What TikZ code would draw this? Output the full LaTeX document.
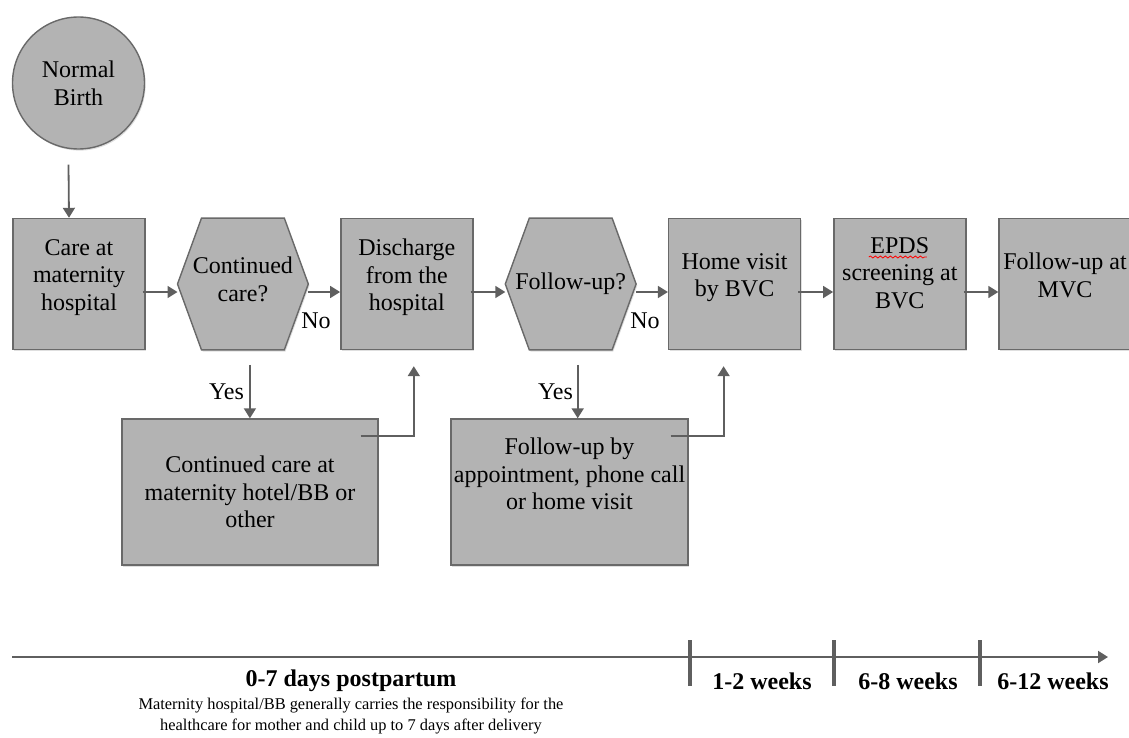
\documentclass[tikz,border=0pt]{standalone}
\usepackage{fontspec}
\setmainfont{Liberation Serif}
\usetikzlibrary{arrows.meta,positioning,shadows,decorations.pathmorphing}
\definecolor{boxgray}{RGB}{179,179,179}
\definecolor{edgegray}{RGB}{105,105,105}
\definecolor{arrgray}{RGB}{95,95,95}
\pgfdeclarelayer{background}
\pgfsetlayers{background,main}

\begin{document}
\begin{tikzpicture}[
  x=0.5pt,y=-0.5pt,
  node distance=15.9pt,
  every node/.style={font=\fontsize{12}{13.8}\selectfont},
  shade/.style={drop shadow={opacity=0.25,shadow xshift=0.6pt,shadow yshift=-0.8pt}},
  box/.style={draw=edgegray,fill=boxgray,line width=0.7pt,minimum width=66pt,minimum height=65.5pt,align=center,inner sep=1pt,shade},
  topbox/.style={box,text depth=9pt},
  hexbox/.style={minimum width=65pt,minimum height=65.5pt,align=center,inner sep=1pt},
  hexline/.style={draw=edgegray,fill=boxgray,line width=0.7pt,shade},
  lowbox/.style={box,minimum height=73pt},
  circ/.style={box,circle,minimum size=66pt},
  arr/.style={-{Triangle[length=5pt,width=6pt]},draw=arrgray,line width=0.9pt},
  tick/.style={draw=arrgray,line width=1.6pt},
  period/.style={font=\fontsize{12}{14}\selectfont\bfseries}
]
\useasboundingbox (0,0) rectangle (1129,738);

% top row
\node[circ] (birth) at (78.5,83) {Normal\\Birth};
\node[topbox] (care) at (79,284) {Care at\\maternity\\hospital};
\node[hexbox,right=of care,text depth=5pt] (cont) {Continued\\care?};
\node[topbox,right=of cont] (disch) {Discharge\\from the\\hospital};
\node[hexbox,right=of disch] (fup) {Follow-up?};
\node[topbox,right=of fup] (home) {Home visit\\by BVC};
\node[topbox,right=of home,text depth=11pt] (epds) {EPDS\\screening at\\BVC};
\node[topbox,right=of epds] (mvc) {Follow-up at\\MVC};

\begin{pgfonlayer}{background}
\foreach \h in {cont,fup}{
  \draw[hexline] (\h.west) -- ([xshift=12pt]\h.north west) -- ([xshift=-12pt]\h.north east)
    -- (\h.east) -- ([xshift=-12pt]\h.south east) -- ([xshift=12pt]\h.south west) -- cycle;
}
\end{pgfonlayer}

% lower boxes
\node[lowbox,minimum width=128pt] (hotel) at (250,492) {Continued care at\\maternity hotel/BB or\\other};
\node[lowbox,minimum width=118.5pt,text depth=18pt] (appt) at (569.5,492) {Follow-up by\\appointment, phone call\\or home visit};

\draw[red,line width=0.4pt,decorate,decoration={snake,amplitude=0.5pt,segment length=2.5pt}]
  ([xshift=-15.5pt,yshift=13.5pt]epds.center) -- ([xshift=13.5pt,yshift=13.5pt]epds.center);

% arrows
\draw[arr] ([xshift=-5pt,yshift=-7.5pt]birth.south) -- ([xshift=-5pt]care.north);
\draw[arr] ([xshift=-1.5pt,yshift=-4pt]care.east) -- ([yshift=-4pt]cont.west);
\draw[arr] ([yshift=-4pt]cont.east) -- ([yshift=-4pt]disch.west);
\draw[arr] ([xshift=-1.5pt,yshift=-4pt]disch.east) -- ([yshift=-4pt]fup.west);
\draw[arr] ([yshift=-4pt]fup.east) -- ([yshift=-4pt]home.west);
\draw[arr] ([xshift=-1.5pt,yshift=-4pt]home.east) -- ([yshift=-4pt]epds.west);
\draw[arr] ([xshift=-1.5pt,yshift=-4pt]epds.east) -- ([yshift=-4pt]mvc.west);

\node (no1) at (316,321) {No};
\node (no2) at (645,321) {No};

\draw[arr] ([xshift=3.5pt,yshift=-7.5pt]cont.south) -- ([xshift=3.5pt]cont.south |- hotel.north);
\draw[arr] ([xshift=3.5pt,yshift=-7.5pt]fup.south) -- ([xshift=3.5pt]fup.south |- appt.north);
\node[left] (yes1) at (251,392) {Yes};
\node[left] (yes2) at (580,392) {Yes};

\draw[arr] ([xshift=-9pt,yshift=-9pt]hotel.north east) -| ([xshift=3.5pt,yshift=-8pt]disch.south);
\draw[arr] ([xshift=-9pt,yshift=-9pt]appt.north east) -| ([xshift=-5.5pt,yshift=-8pt]home.south);

% time line
\coordinate (tstart) at (12,657);
\coordinate (tend) at (1108,657);
\draw[arr,line width=1pt] (tstart) -- (tend);
\foreach \tx/\tn in {690/ta,834/tb,980/tc}{
  \draw[tick] (\tx,640) coordinate (\tn top) -- (\tx,686) coordinate (\tn bot);
}
\node[period] (days) at (351,681) {0-7 days postpartum};
\node[align=center,font=\fontsize{8.2}{10.5}\selectfont,below=-4pt of days] (resp)
  {Maternity hospital/BB generally carries the responsibility for the\\healthcare for mother and child up to 7 days after delivery};
\node[period] (w12) at (762,681) {1-2 weeks};
\node[period] (w68) at (908,681) {6-8 weeks};
\node[period] (w612) at (1053,681) {6-12 weeks};
\end{tikzpicture}
\end{document}
